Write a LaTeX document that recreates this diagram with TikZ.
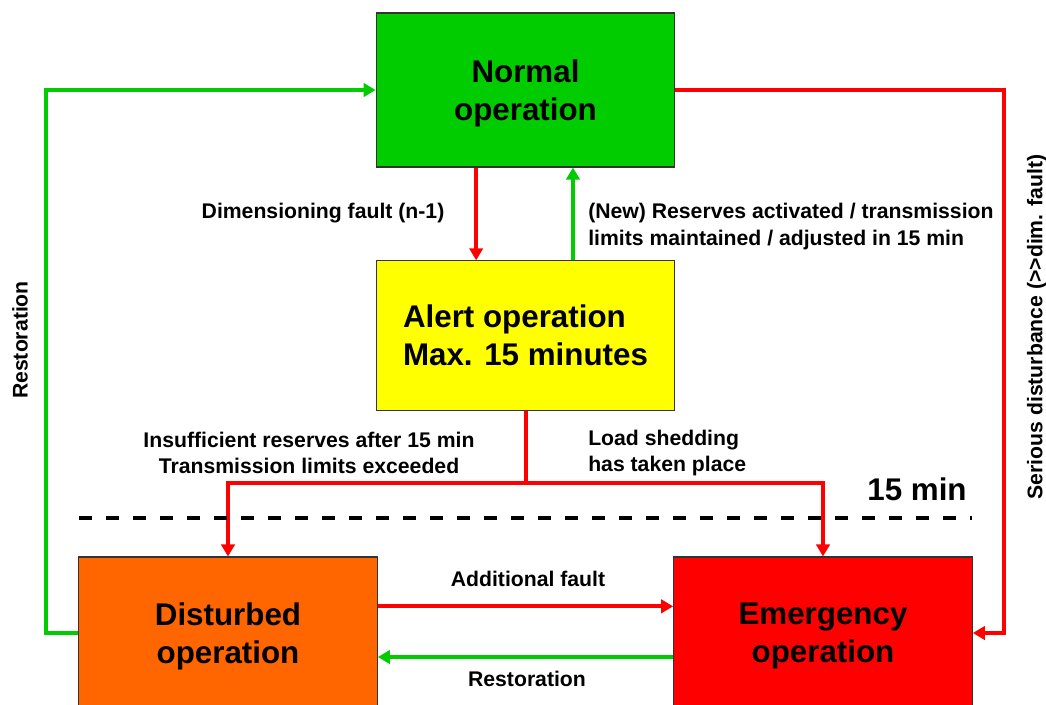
\documentclass[tikz,border=0pt]{standalone}
\usepackage{fontspec}
\setmainfont{Liberation Sans}
\usetikzlibrary{arrows.meta}
\definecolor{opgreen}{HTML}{00CC00}
\definecolor{opyellow}{HTML}{FFFF00}
\definecolor{oporange}{HTML}{FF6600}
\definecolor{opred}{HTML}{FF0000}

\begin{document}
\begin{tikzpicture}[x=0.75pt,y=-0.75pt,
    opstate/.style ={rectangle, draw=black!80, line width=0.8pt, minimum width=224pt,
       align=center, text depth=0pt, font=\fontsize{23.5}{28.5}\selectfont\bfseries},
    oplabel/.style ={inner sep=0pt, font=\fontsize{15.9}{20}\selectfont\bfseries},
    badstep/.style ={draw=opred, line width=3pt, -{Triangle[length=9pt,width=10pt]}},
    goodstep/.style ={draw=opgreen, line width=3pt, -{Triangle[length=9pt,width=10pt]}}]
   \useasboundingbox (0,0) rectangle (1046,704);

   \node[opstate,fill=opgreen,minimum height=115.5pt] (N) at (525.5,90) {Normal\\operation};
   \node[opstate,fill=opyellow,minimum height=112pt,align=left] (A) at (525.5,335.5) {Alert operation\\Max. 15 minutes};
   \node[opstate,fill=oporange,minimum height=114pt] (D) at (228,633) {Disturbed\\operation};
   \node[opstate,fill=opred,minimum height=114pt] (E) at (823,633) {Emergency\\operation};
   \coordinate (split) at (525.5,483);

   \draw[badstep] ([xshift=-37pt]N.south) to ([xshift=-37pt]A.north);
   \draw[goodstep] ([xshift=35.6pt]A.north) to ([xshift=35.6pt]N.south);
   \draw[badstep,-] (A.south) -- (split);
   \draw[badstep] (split) -| (D.north);
   \draw[badstep] (split) -| (E.north);
   \draw[badstep] ([yshift=20pt]D.east) -- ([yshift=20pt]E.west);
   \draw[goodstep] ([yshift=-18pt]E.west) -- ([yshift=-18pt]D.east);
   \draw[badstep] (N.east) -| ([xshift=23pt]E.east) -- (E.east);
   \draw[goodstep] (D.west) -- ([xshift=-24pt]D.west) |- (N.west);

   % 15 minute limit
   \draw[line width=3.5pt, dash pattern=on 9.75pt off 10.5pt] (79,518) -- (972,518);
   \node[inner sep=0pt, font=\fontsize{23.5}{28.5}\selectfont\bfseries] (limit) at (917,489) {15 min};

   \node[oplabel] (fault) at (323,213) {Dimensioning fault (n-1)};
   \node[oplabel,anchor=west,align=left] (reserves) at (588,226.5) {(New) Reserves activated / transmission\\limits maintained / adjusted in 15 min};
   \node[oplabel,align=center] (insuff) at (309,453) {Insufficient reserves after 15 min\\Transmission limits exceeded};
   \node[oplabel,anchor=west,align=left] (shed) at (588,453) {Load shedding\\has taken place};
   \node[oplabel] (addfault) at (528,579) {Additional fault};
   \node[oplabel] (restore) at (527,679) {Restoration};
   \node[oplabel,rotate=90] (restoreleft) at (20,340) {Restoration};
   \node[oplabel,rotate=90] (serious) at (1037,327) {Serious disturbance ({>}{>}dim. fault)};
 \end{tikzpicture}
\end{document}
